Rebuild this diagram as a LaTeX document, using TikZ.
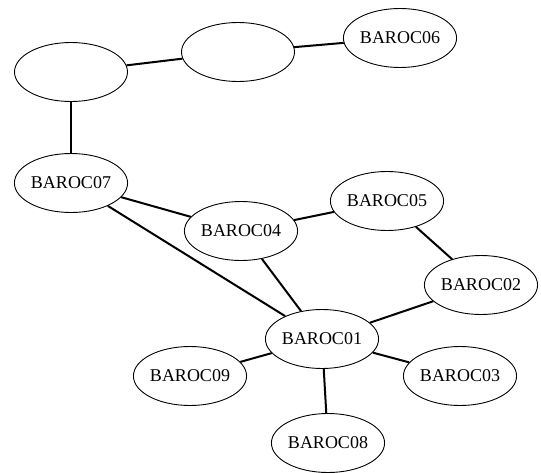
\documentclass[tikz,border=0pt]{standalone}
\usepackage{fontspec}
\setmainfont{Liberation Serif}
\usetikzlibrary{shapes.geometric}

\tikzset{
    host/.style={draw, ellipse, line width=0.9pt, minimum width=113pt,
        minimum height=59pt, inner sep=0pt, font=\fontsize{18}{20}\selectfont},
    link/.style={line width=2pt}
}

\begin{document}
\begin{tikzpicture}[x=1pt,y=-1pt]
            \useasboundingbox (0,0) rectangle (541,472);
            % Hosts
            \node [host] (blankA) at (71,72)  {};
            \node [host] (blankB) at (238,52) {};
            \node [host] (b06) at (400,38)  {BAROC06};
            \node [host] (b07) at (71,183)  {BAROC07};
            \node [host] (b04) at (241,231) {BAROC04};
            \node [host] (b05) at (387,201) {BAROC05};
            \node [host] (b02) at (481,285) {BAROC02};
            \node [host] (b01) at (322,339) {BAROC01};
            \node [host] (b09) at (190,376) {BAROC09};
            \node [host] (b03) at (460,376) {BAROC03};
            \node [host] (b08) at (328,443) {BAROC08};
            % Links
            \foreach \a/\b in {blankA/blankB, blankB/b06, blankA/b07, b07/b04,
                b07/b01, b04/b05, b04/b01, b05/b02, b02/b01, b01/b09,
                b01/b03, b01/b08}{%
                \draw [link] (\a) -- (\b);
            }
        \end{tikzpicture}
\end{document}
